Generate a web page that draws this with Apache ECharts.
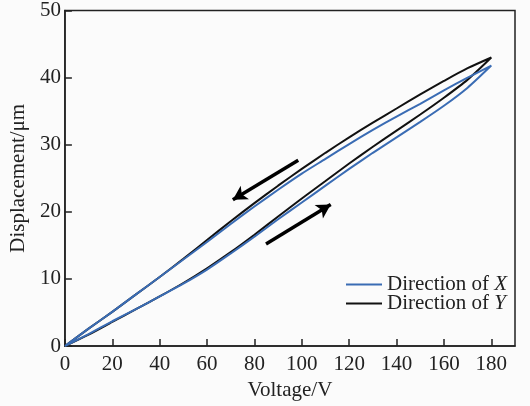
<!DOCTYPE html>
<html>
<head>
<meta charset="utf-8">
<script src="https://cdn.jsdelivr.net/npm/echarts@6/dist/echarts.min.js"></script>
<style>
html,body{margin:0;padding:0;background:#fbfbfb;}
#chart{width:530px;height:406px;}
</style>
</head>
<body>
<div id="chart"></div>
<script>
// Voltage steps (V)
var voltageUp = [0,10,20,30,40,50,60,70,80,90,100,110,120,130,140,150,160,170,180];
var voltageDown = [180,170,160,150,140,130,120,110,100,90,80,70,60,50,40,30,20,10,0];

// Direction of X (blue): rising and falling branches (μm)
var xRise = [0,1.8,3.7,5.5,7.4,9.3,11.4,13.8,16.3,18.9,21.4,23.9,26.4,28.8,31.1,33.4,35.8,38.5,41.8];
var xFall = [41.8,40.0,38.1,36.1,34.2,32.2,30.1,27.9,25.7,23.3,20.8,18.2,15.5,12.9,10.3,7.7,5.1,2.6,0];

// Direction of Y (black): rising and falling branches (μm)
var yRise = [0,1.7,3.6,5.5,7.4,9.4,11.6,14.0,16.6,19.3,22.0,24.6,27.2,29.7,32.1,34.5,37.0,39.7,43.0];
var yFall = [43.0,41.4,39.5,37.5,35.4,33.3,31.1,28.8,26.4,23.9,21.3,18.6,15.8,13.0,10.3,7.7,5.1,2.6,0];

var xTicks = [0,20,40,60,80,100,120,140,160,180];
var yTicks = [0,10,20,30,40,50];

// arrows (data coords): [from, to]
var arrowDown = [[98.5,27.7],[70.9,21.8]];
var arrowUp = [[84.9,15.2],[112.2,21.1]];

var seriesNames = ['Direction of X','Direction of Y'];

function loop(rise, fall){
  var pts = [];
  for (var i=0;i<voltageUp.length;i++) pts.push([voltageUp[i], rise[i]]);
  for (var j=1;j<voltageDown.length;j++) pts.push([voltageDown[j], fall[j]]);
  return pts;
}

var serif = '"Liberation Serif","DejaVu Serif",serif';
var chart = echarts.init(document.getElementById('chart'), null, {renderer:'canvas'});
chart.setOption({
  backgroundColor:'#fbfbfb',
  animation:false,
  grid:{left:63,top:10,right:15,bottom:59,show:true,borderColor:'#222',borderWidth:1.5,backgroundColor:'transparent'},
  legend:{
    orient:'vertical', left:341, top:269, itemGap:-2,
    itemWidth:36, itemHeight:2, icon:'rect',
    textStyle:{fontFamily:serif,fontSize:21,color:'#222',lineHeight:19,
      rich:{i:{fontFamily:serif,fontSize:21,fontStyle:'italic',color:'#222',lineHeight:19}}},
    formatter:function(n){ return n.replace(/of (\w)$/, 'of {i|$1}'); },
    data:seriesNames
  },
  xAxis:{
    type:'value', min:0, max:190, interval:20,
    name:'Voltage/V', nameLocation:'middle', nameGap:31,
    nameTextStyle:{fontFamily:serif,fontSize:21,color:'#222'},
    axisLine:{show:true,onZero:false,lineStyle:{color:'#222',width:1.5}},
    axisTick:{show:true,inside:true,length:7,lineStyle:{color:'#222',width:1.5},
      customValues:xTicks},
    axisLabel:{fontFamily:serif,fontSize:21,color:'#222',margin:8,
      customValues:xTicks},
    splitLine:{show:false}
  },
  yAxis:{
    type:'value', min:0, max:50, interval:10,
    name:'Displacement/μm', nameLocation:'middle', nameGap:30,
    nameTextStyle:{fontFamily:serif,fontSize:21,color:'#222'},
    axisLine:{show:true,onZero:false,lineStyle:{color:'#222',width:1.5}},
    axisTick:{show:true,inside:true,length:7,lineStyle:{color:'#222',width:1.5}},
    axisLabel:{fontFamily:serif,fontSize:21,color:'#222',margin:4,
      formatter:function(v){ return yTicks.indexOf(v)>=0 ? String(v) : ''; }},
    splitLine:{show:false}
  },
  series:[
    {
      name:seriesNames[1], type:'line', data:loop(yRise,yFall), showSymbol:false, smooth:0.25,
      lineStyle:{color:'#111',width:2}, itemStyle:{color:'#111'}, z:2,
      markLine:{
        silent:true, symbol:['none','arrow'], symbolSize:[12,14], label:{show:false},
        lineStyle:{color:'#000',width:3.5,type:'solid'},
        data:[
          [{coord:arrowDown[0]},{coord:arrowDown[1]}],
          [{coord:arrowUp[0]},{coord:arrowUp[1]}]
        ]
      }
    },
    {
      name:seriesNames[0], type:'line', data:loop(xRise,xFall), showSymbol:false, smooth:0.25,
      lineStyle:{color:'#3a6cb4',width:2}, itemStyle:{color:'#3a6cb4'}, z:3
    }
  ]
});
</script>
</body>
</html>
